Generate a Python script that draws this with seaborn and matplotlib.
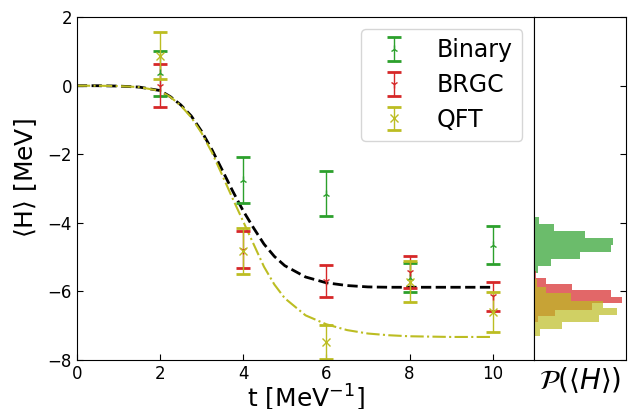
import numpy as np
import pandas as pd
import matplotlib
matplotlib.use("Agg")
import matplotlib.pyplot as plt
import seaborn as sns

# measured energies at each evolution time
t_meas = [2, 4, 6, 8, 10]
binary_mean = [0.36, -2.75, -3.15, -5.60, -4.64]
binary_err = [0.66, 0.68, 0.65, 0.42, 0.56]
brgc_mean = [0.0, -4.78, -5.69, -5.44, -6.14]
brgc_err = [0.62, 0.55, 0.46, 0.47, 0.42]
qft_mean = [0.88, -4.82, -7.48, -5.72, -6.60]
qft_err = [0.69, 0.67, 0.49, 0.60, 0.58]

# exact curves
t_curve = [0, 0.5, 1.0, 1.5, 2.0, 2.25, 2.5, 2.75, 3.0, 3.25, 3.5, 3.75, 4.0,
           4.25, 4.5, 4.75, 5.0, 5.5, 6.0, 6.5, 7.0, 7.5, 8.0, 9.0, 10.0]
exact_a = [0.0, 0.0, -0.01, -0.04, -0.14, -0.32, -0.56, -0.88, -1.33, -1.87, -2.47,
           -3.08, -3.65, -4.15, -4.62, -4.98, -5.25, -5.58, -5.75, -5.83, -5.87,
           -5.88, -5.88, -5.88, -5.88]
exact_b = [0.0, 0.0, -0.01, -0.04, -0.15, -0.33, -0.58, -0.92, -1.38, -1.95, -2.62,
           -3.30, -3.96, -4.62, -5.28, -5.80, -6.20, -6.70, -6.96, -7.13, -7.23,
           -7.28, -7.31, -7.33, -7.33]

# distributions of <H> at t=10
green_edges = [-3.63, -3.83, -4.03, -4.24, -4.44, -4.65, -4.85, -5.06, -5.26, -5.46]
green_counts = [1, 5, 20, 50, 78, 76, 45, 17, 4]
red_edges = [-5.42, -5.60, -5.79, -5.97, -6.16, -6.34, -6.53, -6.71, -6.89]
red_counts = [2, 12, 37, 76, 87, 57, 21, 4]
olive_edges = [-5.65, -5.86, -6.06, -6.27, -6.48, -6.68, -6.89, -7.10, -7.30, -7.51]
olive_counts = [3, 12, 36, 68, 82, 64, 27, 6, 1]

sns.set_style("white")
plt.rcParams["mathtext.fontset"] = "dejavusans"
plt.rcParams["text.color"] = "k"
plt.rcParams["axes.labelcolor"] = "k"
plt.rcParams["xtick.color"] = "k"
plt.rcParams["ytick.color"] = "k"

fig = plt.figure(figsize=(6.3, 4.09), dpi=100)
ax = fig.add_axes([0.122, 0.120, 0.726, 0.838])
axh = fig.add_axes([0.848, 0.120, 0.146, 0.838], sharey=ax)

curves = pd.DataFrame({"t": t_curve, "a": exact_a, "b": exact_b})
sns.lineplot(data=curves, x="t", y="a", ax=ax, color="k", linestyle="--", lw=2)
sns.lineplot(data=curves, x="t", y="b", ax=ax, color="tab:olive", linestyle="-.", lw=1.5)

ax.errorbar(t_meas, binary_mean, yerr=binary_err, fmt="2", color="tab:green",
            capsize=5, capthick=2, elinewidth=1, label="Binary")
ax.errorbar(t_meas, brgc_mean, yerr=brgc_err, fmt="1", color="tab:red",
            capsize=5, capthick=2, elinewidth=1, label="BRGC")
ax.errorbar(t_meas, qft_mean, yerr=qft_err, fmt="x", color="tab:olive",
            capsize=5, capthick=2, elinewidth=1, label="QFT")

ax.set_xlim(0, 11)
ax.set_ylim(-8, 2)
ax.set_xticks([0, 2, 4, 6, 8, 10])
ax.set_yticks([-8, -6, -4, -2, 0, 2])
ax.tick_params(direction="in", labelsize=12, length=4, bottom=True, left=True)
ax.set_xlabel(r"t [MeV$^{-1}$]", fontsize=18, labelpad=0)
ax.set_ylabel(r"$\langle$H$\rangle$ [MeV]", fontsize=18)
ax.yaxis.set_label_coords(-0.083, 0.53)
ax.legend(loc="upper right", fontsize=17, labelspacing=0.45)

for edges, counts, col in [(green_edges, green_counts, "tab:green"),
                           (red_edges, red_counts, "tab:red"),
                           (olive_edges, olive_counts, "tab:olive")]:
    centers = 0.5 * (np.array(edges[:-1]) + np.array(edges[1:]))
    sns.histplot(y=centers, weights=counts, bins=sorted(edges), ax=axh,
                 color=col, alpha=0.7, linewidth=0, element="bars")

axh.set_xlim(0, 91)
axh.set_xticks([])
axh.set_xlabel(r"$\mathcal{P}(\langle H\rangle)$", fontsize=20)
axh.set_ylabel("")
axh.yaxis.tick_right()
axh.tick_params(axis="y", direction="in", right=True, labelright=False,
                labelleft=False, length=4)
for a in (ax, axh):
    for s in a.spines.values():
        s.set_color("k")

fig.savefig("out.png", dpi=100)
